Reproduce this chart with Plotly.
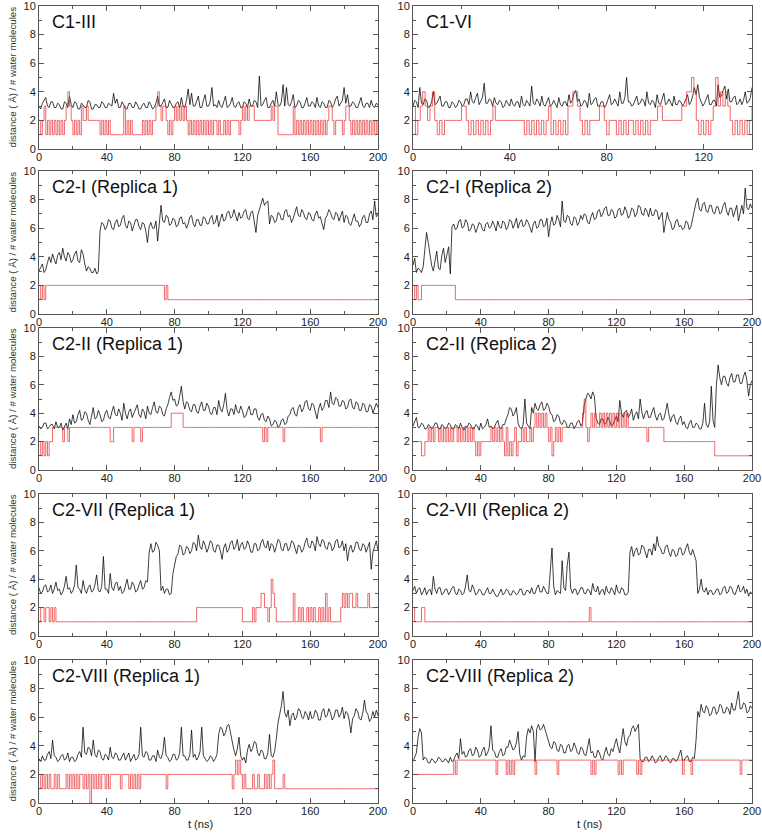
import plotly.graph_objects as go

# ---------------- data ----------------
# black: distance (Å), sampled every DIST_DT ns ; red: number of water molecules, sampled every 1 ns
PANEL_TITLES = ["C1-III", "C1-VI", "C2-I (Replica 1)", "C2-I (Replica 2)",
                "C2-II (Replica 1)", "C2-II (Replica 2)", "C2-VII (Replica 1)",
                "C2-VII (Replica 2)", "C2-VIII (Replica 1)", "C2-VIII (Replica 2)"]
T_MAX = [200, 140, 200, 200, 200, 200, 200, 200, 200, 200]
DIST_DT = [1, 0.7, 1, 1, 1, 1, 1, 1, 1, 1]
WATER_DT = 1
X_TICKS_200 = [0, 40, 80, 120, 160, 200]
X_TICKS_140 = [0, 40, 80, 120]
Y_TICKS = [0, 2, 4, 6, 8, 10]

C1_III_DIST = [
    3.0, 2.8, 3.2, 3.4, 3.6, 3.0, 2.9, 3.3, 3.3, 2.9, 2.9, 3.2, 3.1, 2.8, 2.8, 3.3, 3.2, 2.9, 3.7, 3.1,
    2.9, 3.3, 3.2, 2.8, 2.8, 3.2, 3.1, 2.9, 2.9, 3.4, 3.3, 2.8, 2.8, 3.1, 3.1, 2.9, 2.9, 3.3, 3.2, 2.9,
    2.9, 3.2, 3.1, 3.0, 3.9, 3.2, 3.5, 2.9, 2.9, 3.3, 3.1, 2.8, 2.8, 3.2, 3.2, 2.9, 2.9, 3.3, 3.1, 2.8,
    2.8, 3.1, 3.2, 2.9, 2.9, 3.3, 3.1, 2.8, 2.9, 3.2, 3.7, 3.0, 3.0, 3.3, 3.5, 2.9, 2.9, 3.4, 3.2, 2.9,
    2.9, 3.2, 3.3, 2.9, 3.6, 3.0, 2.9, 3.4, 4.2, 3.1, 3.9, 3.0, 3.0, 3.3, 3.7, 2.9, 2.9, 3.4, 3.8, 3.0,
    3.0, 3.3, 4.3, 3.0, 3.1, 2.9, 3.4, 3.0, 2.9, 3.3, 3.7, 2.9, 3.0, 3.2, 3.6, 3.0, 2.9, 3.2, 3.3, 2.9,
    2.9, 3.3, 3.2, 2.9, 3.5, 3.0, 3.0, 3.4, 3.3, 2.9, 5.1, 3.0, 3.1, 3.4, 3.6, 2.9, 2.9, 3.2, 3.4, 3.0,
    4.0, 3.1, 3.0, 3.3, 4.5, 3.0, 4.3, 3.1, 3.0, 3.3, 3.8, 2.9, 3.0, 3.4, 3.3, 2.9, 2.9, 3.2, 3.6, 3.0,
    3.0, 3.3, 3.2, 2.9, 3.6, 3.0, 2.9, 3.3, 3.2, 2.9, 2.9, 3.4, 3.3, 2.9, 3.1, 3.5, 3.7, 3.0, 3.2, 3.4,
    4.3, 3.2, 3.8, 3.0, 3.0, 3.3, 3.2, 2.9, 2.9, 3.3, 3.6, 3.0, 2.9, 3.2, 3.2, 2.9, 3.4, 3.0, 2.9, 3.2,
    3.1]
C1_III_WATER = [
    2, 1, 2, 3, 1, 2, 1, 2, 1, 2, 1, 2, 1, 2, 1, 2, 3, 4, 3, 2,
    1, 2, 1, 2, 1, 3, 2, 2, 3, 2, 2, 2, 2, 2, 2, 2, 1, 2, 1, 2,
    1, 2, 1, 1, 1, 1, 1, 1, 1, 1, 3, 1, 2, 1, 2, 1, 1, 1, 1, 1,
    1, 2, 1, 2, 1, 2, 1, 2, 2, 3, 4, 3, 2, 3, 3, 2, 1, 2, 1, 2,
    3, 2, 3, 2, 3, 2, 3, 2, 1, 2, 1, 2, 1, 2, 1, 2, 1, 2, 1, 2,
    1, 2, 1, 2, 2, 1, 2, 1, 1, 2, 1, 2, 1, 2, 2, 2, 2, 2, 1, 2,
    3, 2, 3, 2, 3, 3, 3, 2, 2, 2, 2, 2, 2, 2, 2, 2, 2, 3, 2, 3,
    3, 1, 1, 1, 1, 1, 1, 1, 1, 1, 3, 1, 2, 1, 2, 1, 2, 1, 2, 1,
    2, 1, 2, 1, 2, 1, 2, 1, 2, 1, 2, 3, 3, 2, 1, 2, 2, 2, 2, 1,
    2, 3, 3, 2, 1, 2, 1, 2, 1, 2, 1, 2, 1, 2, 1, 2, 1, 2, 1, 2,
    1]

C1_VI_DIST = [
    3.0, 3.4, 3.3, 2.9, 4.3, 3.2, 3.1, 3.5, 3.4, 2.9, 3.0, 3.3, 4.0, 3.1, 3.2, 3.5, 3.7, 3.0, 3.0, 3.3,
    3.3, 2.9, 2.9, 3.3, 3.2, 2.9, 3.0, 3.4, 3.3, 3.0, 3.1, 3.5, 3.5, 3.1, 4.0, 3.3, 3.2, 3.6, 3.9, 3.1,
    3.3, 3.6, 4.6, 3.2, 3.2, 3.5, 3.4, 3.0, 3.6, 3.2, 3.1, 3.4, 3.3, 2.9, 3.0, 3.4, 3.2, 3.0, 3.5, 3.1,
    3.0, 3.3, 3.3, 2.9, 3.7, 3.1, 3.0, 3.4, 3.2, 3.0, 4.4, 3.2, 3.1, 3.5, 3.3, 3.0, 3.7, 3.1, 3.0, 3.3,
    3.6, 3.0, 3.1, 3.4, 3.2, 2.9, 3.6, 3.1, 3.0, 3.3, 3.3, 3.0, 3.8, 3.2, 3.4, 3.9, 4.1, 3.3, 3.5, 3.0,
    3.1, 3.4, 3.3, 2.9, 3.9, 3.1, 3.2, 3.5, 3.6, 3.0, 3.0, 3.3, 3.3, 2.9, 3.1, 3.4, 3.8, 3.1, 3.2, 3.5,
    3.3, 3.0, 4.0, 3.2, 3.2, 3.6, 5.0, 3.3, 3.3, 3.0, 3.1, 3.4, 3.7, 3.1, 3.2, 3.5, 3.4, 3.0, 4.0, 3.2,
    3.1, 3.4, 3.3, 2.9, 3.8, 3.2, 3.1, 3.5, 3.9, 3.1, 3.2, 3.5, 3.3, 3.0, 3.7, 3.1, 3.1, 3.4, 3.3, 3.0,
    3.2, 3.5, 3.8, 3.1, 3.3, 3.7, 4.3, 3.8, 4.5, 3.6, 3.3, 3.0, 3.2, 3.5, 3.8, 3.1, 3.1, 3.4, 3.4, 3.0,
    4.5, 3.6, 3.7, 4.1, 4.4, 3.5, 4.2, 3.3, 3.3, 3.6, 3.7, 3.1, 3.2, 3.5, 3.1, 3.4, 4.0, 3.2, 3.3, 3.6,
    4.3]
C1_VI_WATER = [
    3, 1, 2, 3, 4, 3, 2, 3, 4, 2, 1, 2, 1, 2, 2, 2, 2, 2, 2, 2,
    3, 3, 2, 1, 2, 1, 2, 1, 2, 1, 2, 1, 2, 3, 2, 2, 2, 2, 2, 2,
    2, 2, 2, 2, 2, 2, 1, 2, 1, 2, 1, 2, 1, 2, 1, 2, 3, 1, 2, 1,
    2, 1, 2, 1, 3, 3, 4, 4, 3, 2, 1, 2, 1, 2, 2, 2, 2, 3, 3, 2,
    1, 2, 2, 2, 1, 2, 1, 2, 1, 2, 2, 1, 2, 1, 2, 1, 2, 1, 2, 2,
    2, 3, 3, 2, 2, 2, 2, 2, 2, 2, 2, 3, 3, 4, 4, 5, 4, 2, 1, 2,
    1, 2, 1, 2, 3, 5, 3, 4, 3, 4, 3, 2, 1, 2, 1, 2, 1, 2, 1, 2,
    3]

C2_I_R1_DIST = [
    3.0, 3.3, 3.5, 2.9, 3.1, 3.6, 4.0, 3.6, 4.2, 3.8, 3.5, 4.1, 4.3, 3.8, 4.6, 4.0, 3.7, 4.3, 4.1, 3.6,
    3.8, 4.2, 4.4, 3.7, 3.6, 4.5, 4.2, 3.5, 3.0, 3.3, 3.2, 2.9, 2.9, 3.2, 2.8, 3.0, 5.8, 6.4, 6.3, 5.9,
    6.1, 6.6, 6.5, 6.0, 5.9, 6.4, 6.6, 6.1, 6.2, 6.7, 6.9, 6.2, 6.0, 6.5, 6.4, 5.8, 6.2, 6.6, 6.6, 6.1,
    5.9, 6.4, 6.3, 5.8, 5.0, 6.1, 6.4, 6.0, 6.0, 6.5, 5.1, 6.2, 7.6, 6.5, 6.4, 6.9, 6.8, 6.2, 6.3, 6.7,
    6.6, 6.1, 6.2, 6.7, 6.8, 6.3, 6.4, 6.0, 6.3, 6.8, 6.9, 6.3, 6.1, 6.6, 6.6, 6.2, 6.2, 6.8, 6.7, 6.3,
    6.3, 6.7, 6.9, 6.3, 6.4, 6.9, 6.1, 6.6, 7.0, 6.5, 6.6, 7.1, 7.2, 6.7, 6.8, 7.3, 6.9, 6.5, 7.1, 6.7,
    6.8, 7.2, 7.3, 6.7, 6.6, 7.1, 7.2, 6.4, 5.7, 6.9, 7.4, 7.7, 8.1, 7.6, 7.8, 7.9, 6.3, 6.9, 6.8, 6.4,
    6.5, 7.1, 7.0, 6.6, 6.6, 7.2, 7.3, 6.8, 6.9, 6.4, 6.7, 7.2, 7.5, 6.9, 6.8, 7.3, 7.1, 6.7, 6.6, 7.1,
    7.0, 6.6, 6.5, 7.0, 7.2, 6.7, 6.8, 6.3, 5.9, 6.7, 6.9, 7.3, 7.1, 6.7, 6.6, 7.1, 7.0, 6.5, 6.8, 7.2,
    6.4, 6.9, 6.8, 6.3, 6.2, 6.7, 7.0, 6.5, 6.5, 6.1, 6.3, 6.8, 6.9, 6.4, 6.4, 7.0, 7.2, 6.6, 7.9, 6.8,
    7.0]
C2_I_R1_WATER = [
    2, 1, 2, 1, 2, 2, 2, 2, 2, 2, 2, 2, 2, 2, 2, 2, 2, 2, 2, 2,
    2, 2, 2, 2, 2, 2, 2, 2, 2, 2, 2, 2, 2, 2, 2, 2, 2, 2, 2, 2,
    2, 2, 2, 2, 2, 2, 2, 2, 2, 2, 2, 2, 2, 2, 2, 2, 2, 2, 2, 2,
    2, 2, 2, 2, 2, 2, 2, 2, 2, 2, 2, 2, 2, 2, 1, 2, 1, 1, 1, 1,
    1, 1, 1, 1, 1, 1, 1, 1, 1, 1, 1, 1, 1, 1, 1, 1, 1, 1, 1, 1,
    1, 1, 1, 1, 1, 1, 1, 1, 1, 1, 1, 1, 1, 1, 1, 1, 1, 1, 1, 1,
    1, 1, 1, 1, 1, 1, 1, 1, 1, 1, 1, 1, 1, 1, 1, 1, 1, 1, 1, 1,
    1, 1, 1, 1, 1, 1, 1, 1, 1, 1, 1, 1, 1, 1, 1, 1, 1, 1, 1, 1,
    1, 1, 1, 1, 1, 1, 1, 1, 1, 1, 1, 1, 1, 1, 1, 1, 1, 1, 1, 1,
    1, 1, 1, 1, 1, 1, 1, 1, 1, 1, 1, 1, 1, 1, 1, 1, 1, 1, 1, 1,
    1]

C2_I_R2_DIST = [
    3.4, 3.9, 2.9, 3.2, 3.1, 2.9, 3.3, 4.6, 5.7, 5.0, 4.0, 3.4, 3.0, 3.7, 4.4, 3.2, 3.1, 4.1, 4.6, 3.6,
    4.2, 4.7, 2.8, 6.1, 6.3, 5.9, 6.0, 6.5, 6.6, 6.0, 6.1, 6.6, 6.4, 5.8, 5.9, 6.3, 6.2, 5.7, 6.0, 6.4,
    6.3, 5.9, 5.8, 6.3, 6.4, 6.0, 6.1, 6.5, 6.2, 5.8, 6.5, 6.1, 6.0, 6.5, 6.4, 5.9, 6.1, 6.6, 6.5, 6.0,
    6.3, 6.7, 6.0, 6.4, 6.6, 6.1, 6.2, 6.6, 6.4, 6.0, 5.7, 6.3, 6.5, 6.0, 6.1, 6.6, 6.6, 6.1, 6.2, 6.7,
    5.4, 6.3, 6.8, 6.2, 6.3, 6.9, 6.6, 6.1, 7.9, 6.5, 6.4, 6.9, 6.8, 6.3, 6.2, 6.8, 6.7, 6.2, 6.4, 6.9,
    6.6, 7.0, 6.9, 6.4, 6.3, 6.8, 7.1, 6.6, 6.7, 7.2, 7.3, 6.8, 7.0, 7.4, 7.5, 6.9, 6.9, 7.3, 7.2, 6.7,
    6.8, 7.3, 7.4, 6.9, 7.0, 7.5, 7.2, 6.7, 6.9, 7.4, 7.3, 6.8, 7.0, 7.6, 7.5, 7.0, 6.9, 7.4, 7.2, 6.8,
    7.4, 6.9, 6.9, 7.3, 7.2, 6.6, 6.8, 7.1, 5.7, 6.5, 7.1, 6.6, 6.4, 5.9, 6.0, 6.5, 6.6, 6.1, 6.2, 5.9,
    6.0, 6.5, 6.4, 5.9, 6.1, 6.7, 7.4, 7.8, 8.1, 7.3, 7.2, 7.7, 7.8, 7.2, 7.1, 7.6, 7.6, 7.1, 7.0, 7.5,
    7.5, 7.0, 7.1, 7.6, 7.8, 7.2, 6.9, 7.4, 7.4, 6.8, 7.2, 7.6, 6.5, 7.1, 7.6, 7.0, 8.8, 7.4, 7.3, 7.7,
    7.4]
C2_I_R2_WATER = [
    2, 1, 2, 1, 1, 2, 2, 2, 2, 2, 2, 2, 2, 2, 2, 2, 2, 2, 2, 2,
    2, 2, 2, 2, 2, 1, 1, 1, 1, 1, 1, 1, 1, 1, 1, 1, 1, 1, 1, 1,
    1, 1, 1, 1, 1, 1, 1, 1, 1, 1, 1, 1, 1, 1, 1, 1, 1, 1, 1, 1,
    1, 1, 1, 1, 1, 1, 1, 1, 1, 1, 1, 1, 1, 1, 1, 1, 1, 1, 1, 1,
    1, 1, 1, 1, 1, 1, 1, 1, 1, 1, 1, 1, 1, 1, 1, 1, 1, 1, 1, 1,
    1, 1, 1, 1, 1, 1, 1, 1, 1, 1, 1, 1, 1, 1, 1, 1, 1, 1, 1, 1,
    1, 1, 1, 1, 1, 1, 1, 1, 1, 1, 1, 1, 1, 1, 1, 1, 1, 1, 1, 1,
    1, 1, 1, 1, 1, 1, 1, 1, 1, 1, 1, 1, 1, 1, 1, 1, 1, 1, 1, 1,
    1, 1, 1, 1, 1, 1, 1, 1, 1, 1, 1, 1, 1, 1, 1, 1, 1, 1, 1, 1,
    1, 1, 1, 1, 1, 1, 1, 1, 1, 1, 1, 1, 1, 1, 1, 1, 1, 1, 1, 1,
    1]

C2_II_R1_DIST = [
    3.1, 2.9, 3.0, 3.3, 3.3, 2.9, 3.0, 3.2, 3.2, 2.9, 3.4, 3.0, 3.0, 3.3, 2.8, 3.1, 3.3, 2.9, 3.6, 3.2,
    3.9, 3.3, 3.4, 3.9, 4.2, 3.5, 3.6, 4.1, 4.0, 3.5, 3.2, 3.8, 4.4, 3.6, 3.7, 4.2, 3.9, 3.4, 3.5, 4.0,
    4.2, 3.7, 3.6, 4.1, 4.5, 3.9, 3.8, 4.3, 4.0, 3.5, 4.7, 4.0, 3.6, 4.1, 4.3, 3.7, 4.0, 4.4, 4.6, 3.9,
    3.7, 4.3, 4.1, 3.6, 4.5, 4.0, 3.9, 4.4, 4.8, 4.1, 4.0, 4.5, 4.4, 3.9, 3.8, 4.3, 4.6, 5.1, 5.5, 4.9,
    5.0, 4.5, 4.6, 5.2, 5.9, 4.8, 4.3, 4.8, 4.7, 4.2, 4.1, 4.6, 4.6, 4.1, 4.0, 4.5, 4.8, 4.2, 4.2, 4.7,
    4.5, 4.0, 3.9, 4.4, 4.4, 3.9, 4.9, 4.3, 4.1, 4.6, 5.4, 4.2, 3.8, 4.3, 4.3, 3.9, 4.6, 4.1, 4.0, 4.5,
    4.2, 3.7, 3.8, 4.2, 4.5, 3.9, 3.9, 4.3, 4.3, 3.7, 3.5, 3.9, 4.0, 3.5, 3.4, 3.8, 3.6, 3.1, 3.2, 3.5,
    3.4, 3.0, 3.1, 3.5, 3.6, 3.2, 3.3, 3.8, 3.9, 4.3, 4.4, 3.9, 3.8, 4.4, 4.6, 4.1, 4.3, 4.8, 4.9, 4.3,
    4.2, 4.7, 4.6, 4.1, 3.6, 4.3, 4.7, 4.2, 4.4, 4.9, 4.9, 4.4, 5.5, 4.7, 4.6, 5.1, 5.0, 4.5, 4.5, 4.9,
    4.8, 4.3, 4.4, 4.9, 5.0, 4.4, 4.3, 4.8, 4.7, 4.2, 4.2, 4.7, 4.6, 4.1, 4.1, 4.6, 4.5, 4.0, 4.3, 4.7,
    4.4]
C2_II_R1_WATER = [
    2, 1, 2, 1, 2, 1, 2, 2, 3, 3, 3, 3, 3, 3, 2, 3, 3, 2, 3, 3,
    3, 3, 3, 3, 3, 3, 3, 3, 3, 3, 3, 3, 3, 3, 3, 3, 3, 3, 3, 3,
    3, 3, 2, 2, 3, 3, 3, 3, 3, 3, 3, 3, 3, 3, 3, 2, 3, 3, 3, 3,
    2, 3, 3, 3, 3, 3, 3, 3, 3, 3, 3, 3, 3, 3, 3, 3, 3, 3, 4, 4,
    4, 4, 4, 4, 4, 3, 3, 3, 3, 3, 3, 3, 3, 3, 3, 3, 3, 3, 3, 3,
    3, 3, 3, 3, 3, 3, 3, 3, 3, 3, 3, 3, 3, 3, 3, 3, 3, 3, 3, 3,
    3, 3, 3, 3, 3, 3, 3, 3, 3, 3, 3, 3, 2, 3, 2, 3, 3, 3, 3, 3,
    3, 3, 3, 3, 2, 3, 3, 3, 3, 3, 3, 3, 3, 3, 3, 3, 3, 3, 3, 3,
    3, 3, 3, 3, 3, 3, 2, 3, 3, 3, 3, 3, 3, 3, 3, 3, 3, 3, 3, 3,
    3, 3, 3, 3, 3, 3, 3, 3, 3, 3, 3, 3, 3, 3, 3, 3, 3, 3, 3, 3,
    3]

C2_II_R2_DIST = [
    3.1, 3.4, 3.7, 3.0, 3.0, 3.3, 3.2, 2.9, 2.9, 3.2, 3.1, 2.9, 3.0, 3.3, 3.3, 2.9, 2.9, 3.2, 3.1, 2.9,
    3.0, 3.3, 3.2, 2.9, 2.9, 3.2, 3.1, 2.9, 3.3, 3.0, 2.8, 3.1, 3.0, 3.3, 3.2, 2.9, 2.9, 3.2, 3.1, 2.8,
    3.3, 2.9, 3.0, 3.2, 3.6, 3.0, 3.1, 2.9, 3.0, 3.3, 3.5, 3.0, 2.9, 3.2, 3.2, 3.6, 3.9, 4.4, 4.3, 3.8,
    4.0, 4.4, 3.3, 3.0, 2.9, 3.2, 5.0, 3.3, 3.1, 2.9, 4.4, 4.0, 4.7, 4.3, 4.2, 4.6, 4.8, 4.2, 4.3, 4.7,
    4.5, 4.0, 3.9, 3.4, 3.5, 3.9, 3.8, 3.3, 3.2, 3.5, 3.4, 3.0, 3.0, 3.3, 3.3, 2.9, 3.1, 3.4, 3.5, 3.1,
    3.3, 4.6, 5.0, 5.4, 5.3, 5.0, 5.5, 5.2, 3.7, 3.3, 3.2, 3.6, 3.6, 3.2, 3.3, 3.7, 3.5, 3.1, 3.2, 3.5,
    3.8, 3.4, 4.9, 4.0, 3.7, 4.1, 4.2, 3.7, 3.9, 4.3, 3.5, 3.9, 4.1, 3.6, 5.0, 4.1, 3.6, 4.0, 4.2, 3.7,
    3.7, 4.1, 4.4, 3.8, 3.5, 3.9, 4.0, 3.5, 3.6, 4.1, 4.7, 3.9, 3.4, 3.8, 3.9, 3.4, 3.2, 3.6, 3.8, 3.2,
    3.4, 3.0, 2.9, 3.3, 3.5, 3.0, 3.0, 3.3, 3.2, 2.9, 2.9, 3.3, 4.7, 3.2, 3.0, 3.4, 5.9, 3.5, 3.0, 6.0,
    7.4, 6.5, 6.0, 6.6, 6.6, 6.1, 5.9, 6.5, 6.8, 6.2, 6.2, 6.7, 6.7, 6.1, 6.1, 6.6, 6.9, 6.3, 5.2, 6.0,
    6.3]
C2_II_R2_WATER = [
    2, 2, 2, 2, 2, 1, 1, 2, 2, 3, 2, 3, 2, 3, 3, 2, 3, 2, 3, 2,
    3, 2, 3, 2, 3, 3, 2, 3, 2, 3, 2, 3, 2, 3, 2, 3, 2, 1, 2, 1,
    2, 2, 2, 2, 2, 2, 3, 2, 3, 2, 3, 2, 3, 2, 1, 3, 1, 2, 1, 2,
    3, 1, 2, 2, 3, 2, 3, 2, 2, 3, 2, 3, 4, 3, 4, 3, 4, 3, 4, 3,
    2, 3, 1, 2, 3, 2, 3, 2, 3, 3, 3, 3, 3, 3, 3, 3, 3, 3, 3, 3,
    4, 5, 3, 2, 3, 4, 3, 4, 3, 3, 4, 3, 4, 3, 4, 3, 4, 3, 4, 3,
    4, 3, 4, 3, 4, 3, 4, 3, 3, 3, 3, 3, 3, 3, 3, 3, 3, 3, 2, 3,
    3, 3, 3, 3, 3, 3, 3, 3, 2, 2, 2, 2, 2, 2, 2, 2, 2, 2, 2, 2,
    2, 2, 2, 2, 2, 2, 2, 2, 2, 2, 2, 2, 2, 2, 2, 2, 2, 2, 1, 1,
    1, 1, 1, 1, 1, 1, 1, 1, 1, 1, 1, 1, 1, 1, 1, 1, 1, 1, 1, 1,
    1]

C2_VII_R1_DIST = [
    3.4, 3.0, 3.1, 3.5, 3.6, 3.1, 3.2, 3.6, 3.0, 3.3, 3.8, 3.2, 3.3, 2.9, 3.1, 3.5, 4.2, 3.3, 3.4, 3.0,
    3.2, 3.6, 5.0, 3.4, 3.3, 3.0, 3.9, 3.3, 3.0, 3.4, 3.6, 3.1, 3.2, 3.6, 4.3, 3.2, 3.1, 3.5, 5.6, 3.3,
    3.3, 3.0, 4.4, 3.4, 3.2, 3.7, 3.8, 3.2, 3.5, 3.0, 3.1, 3.5, 4.0, 3.3, 3.3, 3.8, 3.6, 3.1, 3.2, 3.6,
    3.9, 3.3, 3.4, 3.9, 3.8, 5.9, 6.5, 5.9, 6.0, 6.6, 6.4, 6.0, 3.2, 3.5, 3.0, 3.3, 3.3, 2.9, 3.0, 4.4,
    5.0, 5.6, 5.8, 6.4, 6.3, 5.7, 5.8, 6.3, 6.2, 5.8, 6.0, 6.6, 6.5, 6.0, 7.1, 6.3, 6.1, 6.7, 6.4, 5.9,
    6.2, 6.7, 6.6, 6.0, 5.9, 6.4, 6.4, 6.0, 5.4, 6.2, 6.5, 5.9, 6.1, 6.6, 6.7, 6.1, 6.3, 6.8, 6.0, 6.4,
    6.6, 6.1, 6.2, 6.7, 6.4, 5.9, 5.9, 6.5, 6.5, 6.0, 6.1, 6.6, 6.8, 6.3, 6.2, 6.7, 6.0, 6.5, 6.4, 5.9,
    6.3, 6.8, 6.7, 6.1, 6.0, 6.5, 6.5, 6.0, 6.2, 6.7, 6.6, 6.1, 5.8, 6.4, 6.3, 5.9, 6.1, 6.6, 6.9, 6.3,
    6.2, 6.7, 6.5, 6.0, 7.0, 6.5, 6.3, 6.8, 6.7, 6.2, 6.1, 6.6, 6.5, 6.0, 6.2, 6.7, 6.8, 6.2, 6.3, 6.7,
    6.0, 6.5, 5.3, 6.1, 6.4, 5.9, 6.1, 6.6, 6.6, 6.1, 6.0, 6.5, 6.4, 5.9, 6.2, 6.6, 4.7, 5.9, 6.3, 6.7,
    6.0]
C2_VII_R1_WATER = [
    1, 2, 2, 1, 2, 2, 1, 2, 1, 2, 1, 1, 1, 1, 1, 1, 1, 1, 1, 1,
    1, 1, 1, 1, 1, 1, 1, 1, 1, 1, 1, 1, 1, 1, 1, 1, 1, 1, 1, 1,
    1, 1, 1, 1, 1, 1, 1, 1, 1, 1, 1, 1, 1, 1, 1, 1, 1, 1, 1, 1,
    1, 1, 1, 1, 1, 1, 1, 1, 1, 1, 1, 1, 1, 1, 1, 1, 1, 1, 1, 1,
    1, 1, 1, 1, 1, 1, 1, 1, 1, 1, 1, 1, 1, 2, 2, 2, 2, 2, 2, 2,
    2, 2, 2, 2, 2, 2, 2, 2, 2, 2, 2, 2, 2, 2, 2, 2, 2, 2, 2, 2,
    1, 1, 1, 1, 1, 1, 2, 1, 2, 2, 2, 3, 3, 2, 2, 1, 2, 4, 3, 2,
    1, 1, 1, 1, 1, 1, 1, 1, 1, 1, 3, 1, 1, 2, 1, 2, 1, 1, 2, 1,
    2, 1, 2, 1, 1, 2, 1, 2, 1, 3, 1, 2, 1, 1, 1, 1, 1, 1, 2, 3,
    2, 3, 2, 3, 3, 2, 2, 3, 2, 2, 2, 2, 2, 2, 3, 2, 2, 2, 2, 2,
    2]

C2_VII_R2_DIST = [
    3.2, 3.5, 3.0, 3.3, 3.4, 2.9, 3.1, 3.4, 2.9, 3.2, 3.3, 2.9, 4.2, 3.3, 3.0, 3.4, 3.4, 2.9, 3.0, 3.3,
    3.3, 2.9, 3.1, 3.4, 3.5, 3.0, 2.9, 3.3, 3.2, 2.9, 3.0, 3.5, 4.3, 3.2, 3.1, 3.6, 3.3, 2.9, 3.0, 3.3,
    3.2, 2.9, 2.9, 3.2, 3.4, 3.0, 3.0, 3.3, 3.1, 2.8, 2.8, 3.1, 3.3, 2.9, 3.0, 3.3, 3.2, 2.9, 2.9, 3.2,
    3.1, 2.9, 3.0, 3.3, 3.3, 2.9, 2.9, 3.2, 3.2, 3.0, 3.4, 3.0, 3.0, 3.4, 3.6, 3.1, 3.1, 3.5, 3.3, 3.0,
    3.0, 4.5, 6.2, 3.5, 2.9, 3.2, 3.1, 3.0, 5.3, 3.4, 3.2, 5.0, 5.9, 3.4, 3.0, 3.3, 3.3, 2.9, 3.1, 3.4,
    3.4, 3.0, 3.0, 3.3, 3.2, 2.9, 3.7, 3.2, 3.1, 3.5, 2.9, 3.2, 3.3, 2.9, 3.5, 3.1, 3.0, 3.4, 3.2, 2.9,
    3.6, 3.1, 3.0, 3.4, 3.3, 2.9, 2.9, 3.1, 5.9, 6.3, 5.6, 6.0, 6.2, 5.7, 5.8, 6.4, 6.3, 5.9, 5.5, 6.1,
    6.1, 5.7, 6.5, 6.0, 7.0, 6.3, 6.2, 5.8, 5.8, 6.3, 6.4, 5.9, 5.6, 6.1, 6.0, 5.6, 5.7, 6.2, 6.2, 5.7,
    5.8, 6.2, 6.5, 5.9, 5.7, 6.1, 5.6, 5.3, 3.0, 3.3, 4.0, 3.2, 3.1, 3.4, 2.9, 3.2, 3.2, 2.9, 3.0, 3.3,
    3.3, 2.9, 3.0, 3.4, 3.5, 3.0, 3.1, 3.5, 3.4, 3.0, 2.9, 3.3, 3.6, 3.1, 3.2, 3.5, 3.0, 3.3, 2.8, 3.1,
    3.0]
C2_VII_R2_WATER = [
    2, 1, 1, 1, 1, 2, 2, 1, 1, 1, 1, 1, 1, 1, 1, 1, 1, 1, 1, 1,
    1, 1, 1, 1, 1, 1, 1, 1, 1, 1, 1, 1, 1, 1, 1, 1, 1, 1, 1, 1,
    1, 1, 1, 1, 1, 1, 1, 1, 1, 1, 1, 1, 1, 1, 1, 1, 1, 1, 1, 1,
    1, 1, 1, 1, 1, 1, 1, 1, 1, 1, 1, 1, 1, 1, 1, 1, 1, 1, 1, 1,
    1, 1, 1, 1, 1, 1, 1, 1, 1, 1, 1, 1, 1, 1, 1, 1, 1, 1, 1, 1,
    1, 1, 1, 1, 2, 1, 1, 1, 1, 1, 1, 1, 1, 1, 1, 1, 1, 1, 1, 1,
    1, 1, 1, 1, 1, 1, 1, 1, 1, 1, 1, 1, 1, 1, 1, 1, 1, 1, 1, 1,
    1, 1, 1, 1, 1, 1, 1, 1, 1, 1, 1, 1, 1, 1, 1, 1, 1, 1, 1, 1,
    1, 1, 1, 1, 1, 1, 1, 1, 1, 1, 1, 1, 1, 1, 1, 1, 1, 1, 1, 1,
    1, 1, 1, 1, 1, 1, 1, 1, 1, 1, 1, 1, 1, 1, 1, 1, 1, 1, 1, 1,
    1]

C2_VIII_R1_DIST = [
    3.1, 2.9, 3.3, 3.0, 3.0, 3.4, 3.6, 3.1, 4.4, 3.3, 3.2, 2.9, 3.0, 3.3, 3.4, 3.0, 3.1, 3.5, 2.9, 3.2,
    3.2, 2.9, 3.0, 3.4, 3.6, 3.2, 5.3, 3.5, 3.4, 3.9, 3.8, 3.3, 4.4, 3.4, 3.2, 3.7, 3.6, 3.1, 3.0, 3.4,
    3.3, 3.0, 3.9, 3.2, 3.1, 3.5, 3.4, 3.0, 3.0, 3.3, 3.5, 3.0, 3.2, 3.5, 2.9, 3.2, 3.4, 3.0, 3.1, 3.4,
    5.3, 3.3, 3.2, 3.6, 3.5, 3.0, 3.0, 3.3, 3.3, 2.9, 3.7, 3.2, 3.1, 3.5, 4.6, 3.3, 3.2, 2.9, 3.0, 3.4,
    3.4, 3.0, 3.1, 3.5, 5.3, 3.3, 3.3, 3.0, 3.0, 3.4, 5.1, 3.2, 3.4, 3.0, 3.2, 3.6, 5.3, 3.3, 3.1, 2.9,
    3.0, 3.3, 3.2, 2.9, 3.1, 3.4, 4.8, 5.3, 5.2, 4.7, 4.9, 5.4, 5.5, 4.9, 4.2, 3.7, 3.3, 3.8, 4.6, 3.3,
    3.0, 3.2, 2.8, 3.7, 4.1, 3.6, 3.8, 4.3, 4.2, 3.5, 3.3, 3.7, 3.6, 3.1, 3.1, 3.5, 4.8, 3.3, 3.2, 3.6,
    4.5, 5.6, 6.2, 6.8, 7.8, 6.3, 6.0, 6.5, 5.4, 6.1, 6.3, 5.8, 6.0, 6.6, 6.5, 6.0, 5.9, 6.4, 6.2, 5.8,
    6.4, 5.9, 6.0, 6.5, 6.3, 5.8, 5.8, 6.4, 6.6, 6.0, 6.1, 6.6, 6.3, 5.8, 6.0, 6.5, 6.5, 6.0, 6.2, 6.7,
    5.9, 6.4, 6.3, 5.8, 4.9, 5.9, 6.1, 6.6, 6.4, 5.9, 5.8, 6.3, 7.2, 6.4, 6.2, 5.7, 5.9, 6.4, 6.0, 6.5,
    6.1]
C2_VIII_R1_WATER = [
    2, 1, 2, 1, 2, 1, 2, 1, 1, 2, 1, 2, 1, 1, 1, 1, 2, 1, 2, 1,
    2, 1, 2, 1, 2, 2, 1, 2, 1, 2, 0, 2, 1, 2, 1, 2, 1, 2, 2, 1,
    2, 1, 2, 2, 2, 2, 2, 2, 1, 2, 2, 2, 2, 1, 2, 1, 2, 1, 2, 1,
    2, 2, 2, 2, 2, 2, 2, 2, 2, 2, 2, 2, 2, 2, 2, 1, 2, 2, 2, 2,
    2, 2, 2, 2, 2, 2, 2, 2, 2, 2, 2, 2, 2, 2, 2, 2, 2, 2, 2, 2,
    2, 2, 2, 2, 2, 2, 2, 2, 2, 2, 2, 2, 2, 2, 1, 2, 3, 2, 3, 2,
    1, 2, 1, 1, 1, 1, 2, 1, 1, 2, 1, 1, 1, 2, 1, 2, 1, 2, 3, 1,
    1, 1, 1, 1, 2, 1, 1, 1, 1, 1, 1, 1, 1, 1, 1, 1, 1, 1, 1, 1,
    1, 1, 1, 1, 1, 1, 1, 1, 1, 1, 1, 1, 1, 1, 1, 1, 1, 1, 1, 1,
    1, 1, 1, 1, 1, 1, 1, 1, 1, 1, 1, 1, 1, 1, 1, 1, 1, 1, 1, 1,
    1]

C2_VIII_R2_DIST = [
    2.9, 3.2, 3.5, 4.6, 5.2, 4.9, 3.0, 3.2, 3.1, 2.8, 2.8, 3.1, 3.0, 2.8, 2.9, 3.2, 3.1, 2.9, 2.9, 3.1,
    3.0, 2.8, 3.2, 2.9, 3.0, 3.3, 3.5, 3.1, 4.5, 3.4, 3.6, 3.2, 3.3, 3.7, 3.8, 3.3, 3.4, 3.9, 3.7, 3.2,
    3.3, 3.7, 3.9, 3.3, 3.5, 3.9, 5.4, 3.7, 3.6, 3.2, 3.2, 3.6, 3.8, 3.3, 3.4, 3.9, 3.9, 4.4, 4.1, 3.7,
    3.8, 4.2, 5.0, 3.4, 3.0, 3.3, 3.2, 4.6, 5.2, 4.9, 5.4, 5.0, 2.9, 5.2, 5.5, 5.1, 5.2, 5.5, 5.1, 4.7,
    4.4, 3.9, 3.8, 4.3, 4.2, 3.7, 3.6, 4.1, 4.0, 3.5, 3.5, 4.0, 4.1, 3.6, 3.7, 4.2, 3.9, 3.5, 3.4, 3.9,
    3.8, 3.4, 3.3, 3.8, 4.5, 3.5, 3.6, 3.2, 3.2, 3.7, 3.5, 3.1, 3.0, 3.5, 3.9, 3.4, 3.3, 3.8, 3.6, 4.1,
    4.5, 3.9, 3.5, 4.4, 5.2, 4.3, 4.0, 4.6, 4.7, 5.2, 5.4, 5.0, 5.3, 5.5, 3.1, 2.9, 2.9, 3.2, 3.2, 2.9,
    3.0, 3.3, 3.1, 2.8, 2.9, 3.2, 3.3, 2.9, 3.0, 3.3, 3.2, 2.9, 2.8, 3.1, 3.1, 2.9, 3.0, 3.3, 3.7, 3.0,
    3.0, 3.2, 3.3, 2.9, 2.9, 3.2, 3.1, 4.4, 6.4, 6.0, 6.9, 6.4, 6.3, 6.8, 6.6, 6.1, 6.2, 6.7, 6.7, 6.2,
    6.4, 6.9, 6.8, 6.3, 6.3, 6.7, 6.6, 6.2, 7.0, 6.5, 6.5, 7.1, 7.8, 6.6, 6.6, 7.0, 6.9, 6.3, 6.4, 6.8,
    6.6]
C2_VIII_R2_WATER = [
    2, 2, 2, 2, 2, 2, 2, 2, 2, 2, 2, 2, 2, 2, 2, 2, 2, 2, 2, 2,
    2, 2, 2, 2, 3, 2, 3, 3, 3, 3, 3, 3, 3, 3, 3, 3, 3, 3, 3, 3,
    3, 3, 3, 3, 3, 3, 3, 3, 3, 2, 3, 3, 3, 3, 3, 2, 3, 2, 3, 2,
    3, 3, 3, 3, 3, 3, 3, 3, 3, 3, 3, 3, 2, 3, 3, 3, 3, 3, 3, 3,
    3, 3, 3, 3, 3, 2, 3, 3, 3, 3, 3, 3, 3, 3, 3, 3, 3, 3, 3, 3,
    3, 3, 3, 3, 3, 2, 3, 2, 3, 3, 3, 3, 3, 3, 3, 3, 3, 3, 3, 3,
    3, 2, 3, 2, 3, 3, 3, 3, 3, 3, 3, 3, 2, 3, 2, 3, 3, 3, 3, 3,
    3, 3, 3, 3, 3, 3, 3, 3, 3, 3, 3, 3, 3, 3, 3, 3, 3, 3, 3, 2,
    3, 3, 3, 3, 2, 3, 3, 3, 3, 3, 3, 3, 3, 3, 3, 3, 3, 3, 3, 3,
    3, 3, 3, 3, 3, 3, 3, 3, 3, 3, 3, 3, 3, 2, 3, 3, 3, 3, 3, 3,
    3]

DIST = [C1_III_DIST, C1_VI_DIST, C2_I_R1_DIST, C2_I_R2_DIST, C2_II_R1_DIST,
        C2_II_R2_DIST, C2_VII_R1_DIST, C2_VII_R2_DIST, C2_VIII_R1_DIST, C2_VIII_R2_DIST]
WATER = [C1_III_WATER, C1_VI_WATER, C2_I_R1_WATER, C2_I_R2_WATER, C2_II_R1_WATER,
         C2_II_R2_WATER, C2_VII_R1_WATER, C2_VII_R2_WATER, C2_VIII_R1_WATER, C2_VIII_R2_WATER]

# ---------------- layout ----------------
W, H = 762, 833
COLS_PX = [(39, 378), (413, 752)]
ROWS_PX = [(6, 149), (171, 314), (328, 470), (494, 636), (660, 803)]
FONT = "Liberation Sans, Arial, Helvetica, sans-serif"

fig = go.Figure()
layout = dict(width=W, height=H, margin=dict(l=0, r=0, t=0, b=0, autoexpand=False),
              paper_bgcolor="white", plot_bgcolor="white", showlegend=False,
              font=dict(family=FONT, color="#222"))
annotations = []

for i in range(10):
    r, c = divmod(i, 2)
    n = i + 1
    xs = "" if n == 1 else str(n)
    x0, x1 = COLS_PX[c]
    y0, y1 = ROWS_PX[r]
    xdom = [x0 / W, x1 / W]
    ydom = [1 - y1 / H, 1 - y0 / H]
    tmax = T_MAX[i]
    xticks = X_TICKS_140 if tmax == 140 else X_TICKS_200

    dt = DIST_DT[i]
    t_dist = [k * dt for k in range(len(DIST[i]))]
    t_water = [k * WATER_DT for k in range(len(WATER[i]))]

    fig.add_trace(go.Scatter(x=t_dist, y=DIST[i], mode="lines",
                             line=dict(color="black", width=0.75),
                             xaxis="x" + xs, yaxis="y" + xs, hoverinfo="skip"))
    fig.add_trace(go.Scatter(x=t_water, y=WATER[i], mode="lines",
                             line=dict(color="#e8262a", width=0.7, shape="hv"),
                             xaxis="x" + xs, yaxis="y" + xs, hoverinfo="skip"))

    common = dict(showline=True, linecolor="#555", linewidth=1, mirror="allticks",
                  ticks="inside", ticklen=5, tickcolor="#555", showgrid=False,
                  zeroline=False, automargin=False, ticklabeloverflow="allow",
                  tickfont=dict(size=11, family=FONT, color="#222"))
    layout["xaxis" + xs] = dict(common, domain=xdom, range=[0, tmax], tickvals=xticks,
                                anchor="y" + xs, ticklabelstandoff=-2,
                                minor=dict(ticks="inside", ticklen=3, dtick=20,
                                           tickcolor="#555", showgrid=False))
    layout["yaxis" + xs] = dict(common, domain=ydom, range=[0, 10], tickvals=Y_TICKS,
                                anchor="x" + xs,
                                minor=dict(ticks="inside", ticklen=3, dtick=1,
                                           tickcolor="#555", showgrid=False))

    annotations.append(dict(text=PANEL_TITLES[i], xref="x" + xs + " domain",
                            yref="y" + xs + " domain", x=0.032, y=0.89,
                            xanchor="left", yanchor="middle", showarrow=False,
                            font=dict(size=18, family=FONT, color="#111")))
    if c == 0:
        annotations.append(dict(text="distance ( Å) / # water molecules",
                                xref="paper", yref="paper", x=12 / W,
                                y=1 - (y0 + y1) / 2 / H, textangle=-90,
                                xanchor="center", yanchor="middle", showarrow=False,
                                font=dict(size=9.7, family=FONT, color="#333")))

for xc in (201, 589):
    annotations.append(dict(text="t (ns)", xref="paper", yref="paper",
                            x=xc / W, y=1 - 824 / H, xanchor="center",
                            yanchor="middle", showarrow=False,
                            font=dict(size=11, family=FONT, color="#222")))

layout["annotations"] = annotations
fig.update_layout(**layout)
fig.write_html("out.html", config={"displayModeBar": False, "staticPlot": True},
               post_script="document.body.style.margin='0px';"
                           "document.body.style.overflow='hidden';")
